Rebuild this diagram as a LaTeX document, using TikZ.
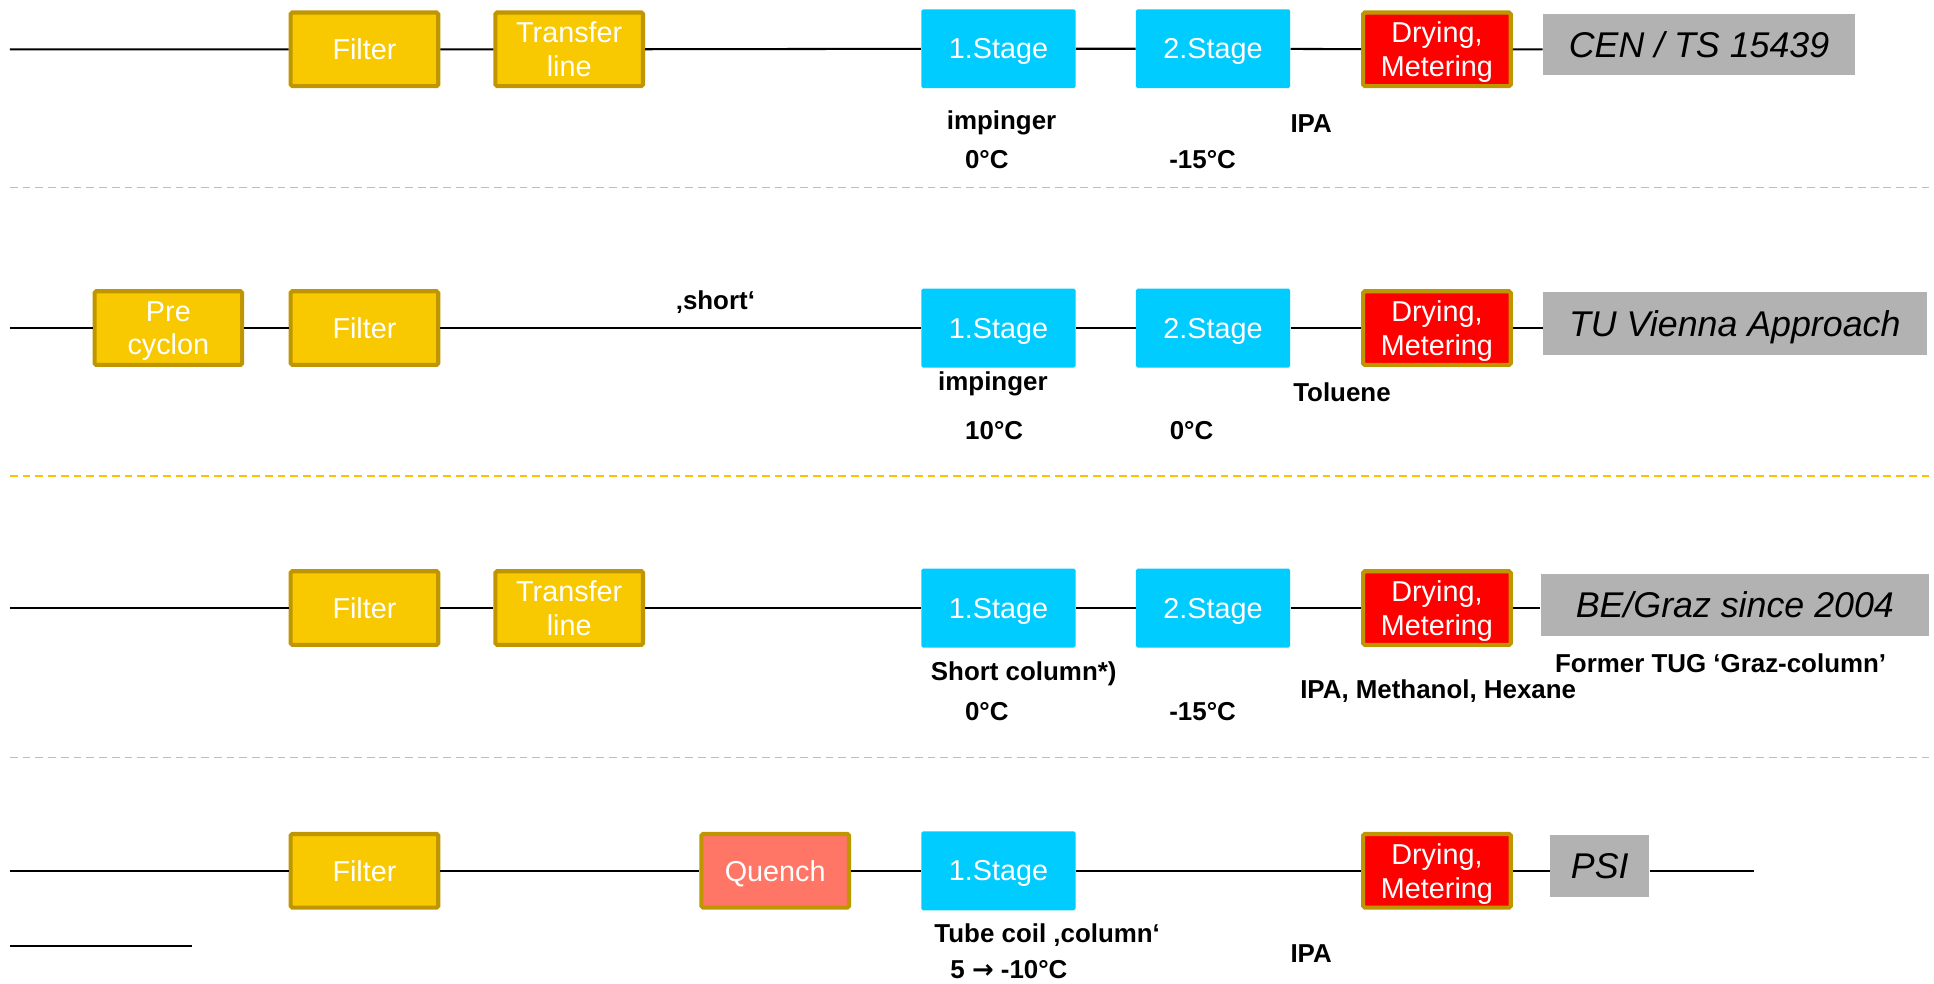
\documentclass[tikz,border=0pt]{standalone}
\usepackage{fontspec}
\setmainfont{Liberation Sans}
\newfontfamily\dejavu{DejaVu Sans}
\definecolor{goldfill}{HTML}{F8C800}
\definecolor{goldline}{HTML}{BF9600}
\definecolor{stagecol}{HTML}{00CCFF}
\definecolor{drycol}{HTML}{FF0000}
\definecolor{quenchcol}{HTML}{FF7566}
\definecolor{titlecol}{HTML}{B2B2B2}
\definecolor{dashcol}{HTML}{FFC000}
\tikzset{
  boxtext/.style={font=\fontsize{14}{16.4}\selectfont, text=white, align=center, inner sep=0pt, text depth=0pt},
  gbox/.style={boxtext, fill=goldfill, draw=goldline, line width=2pt, rounded corners=0.8pt, minimum width=71.8pt, minimum height=35.8pt},
  qbox/.style={gbox, fill=quenchcol},
  rbox/.style={gbox, fill=drycol},
  sbox/.style={boxtext, fill=stagecol, rounded corners=0.8pt, minimum width=75pt, minimum height=38.4pt},
  tbox/.style={fill=titlecol, inner sep=0pt, text depth=0pt, minimum height=30pt, font=\fontsize{17.4}{20}\selectfont\itshape},
  lab/.style={font=\fontsize{12.6}{15}\selectfont\bfseries, inner sep=0pt},
  conn/.style={line width=1pt, black},
  sep/.style={line width=0.8pt, dashcol, dash pattern=on 3.8pt off 2.4pt}
}
\begin{document}
\begin{tikzpicture}[x=0.6pt,y=-0.6pt]
\useasboundingbox (0,0) rectangle (1568,797);

% separators
\draw[sep] (8,152) -- (1568,152);
\draw[sep] (8,386) -- (1568,386);
\draw[sep] (8,614) -- (1568,614);

% ---------- Row 1 ----------
\coordinate (s1) at (8,40);
\node[gbox] (f1) at (295.5,40) {Filter};
\node[gbox] (t1) at (461.5,40) {Transfer\\line};
\node[sbox] (a1) at (809.5,39.5) {1.Stage};
\node[sbox] (b1) at (983.5,39.5) {2.Stage};
\node[rbox] (d1) at (1165,40) {Drying,\\Metering};
\node[tbox, minimum width=151.8pt] (n1) at (1377.5,36) {CEN / TS 15439};
\draw[conn] (s1) -- (f1) (f1) -- (t1) (t1) -- (a1) (a1) -- (b1) (b1) -- (d1) (d1.east) -- (d1.east -| n1.west);
\node[lab] (l1a) at (812,100) {impinger};
\node[lab] (l1b) at (800,129) {0°C};
\node[lab] (l1c) at (975,129) {-15°C};
\node[lab] (l1d) at (1063,100) {IPA};

% ---------- Row 2 ----------
\coordinate (s2) at (8,266);
\node[gbox] (p2) at (136.5,266) {Pre\\cyclon};
\node[gbox] (f2) at (295.5,266) {Filter};
\node[sbox] (a2) at (809.5,266) {1.Stage};
\node[sbox] (b2) at (983.5,266) {2.Stage};
\node[rbox] (d2) at (1165,266) {Drying,\\Metering};
\node[tbox, minimum width=186.6pt, minimum height=30.6pt] (n2) at (1406.5,262.5) {TU Vienna Approach};
\draw[conn] (s2) -- (p2) (p2) -- (f2) (f2) -- (a2) (a2) -- (b2) (b2) -- (d2) (d2.east) -- (d2.east -| n2.west);
\node[lab] (l2s) at (580,245) {‚short‘};
\node[lab] (l2a) at (805,311) {impinger};
\node[lab] (l2b) at (806,349) {10°C};
\node[lab] (l2c) at (966,349) {0°C};
\node[lab] (l2d) at (1088,318) {Toluene};

% ---------- Row 3 ----------
\coordinate (s3) at (8,493);
\node[gbox] (f3) at (295.5,493) {Filter};
\node[gbox] (t3) at (461.5,493) {Transfer\\line};
\node[sbox] (a3) at (809.5,493) {1.Stage};
\node[sbox] (b3) at (983.5,493) {2.Stage};
\node[rbox] (d3) at (1165,493) {Drying,\\Metering};
\node[tbox, minimum width=189pt, minimum height=30.6pt] (n3) at (1406.5,490.5) {BE/Graz since 2004};
\draw[conn] (s3) -- (f3) (f3) -- (t3) (t3) -- (a3) (a3) -- (b3) (b3) -- (d3) (d3.east) -- (d3.east -| n3.west);
\node[lab] (l3a) at (830,546) {Short column*)};
\node[lab] (l3b) at (800,577) {0°C};
\node[lab] (l3c) at (975,577) {-15°C};
\node[lab] (l3d) at (1166,560) {IPA, Methanol, Hexane};
\node[lab] (l3e) at (1395,538) {Former TUG ‘Graz-column’};

% ---------- Row 4 ----------
\coordinate (s4) at (8,706);
\coordinate (e4) at (1422,706);
\node[gbox] (f4) at (295.5,706) {Filter};
\node[qbox] (q4) at (628.5,706) {Quench};
\node[sbox] (a4) at (809.5,706) {1.Stage};
\node[rbox] (d4) at (1165,706) {Drying,\\Metering};
\node[tbox, minimum width=48pt] (n4) at (1297,702) {PSI};
\draw[conn] (s4) -- (f4) (f4) -- (q4) (q4) -- (a4) (a4) -- (d4) (d4.east) -- (d4.east -| n4.west) (n4.east |- e4) -- (e4);
\coordinate (u1) at (8,767);
\coordinate (u2) at (156,767);
\draw[conn] (u1) -- (u2);
\node[lab] (l4a) at (849,758) {Tube coil ‚column‘};
\node[lab] (l4b) at (818,786) {5 {\dejavu\bfseries →} -10°C};
\node[lab] (l4c) at (1063,773) {IPA};
\end{tikzpicture}
\end{document}
